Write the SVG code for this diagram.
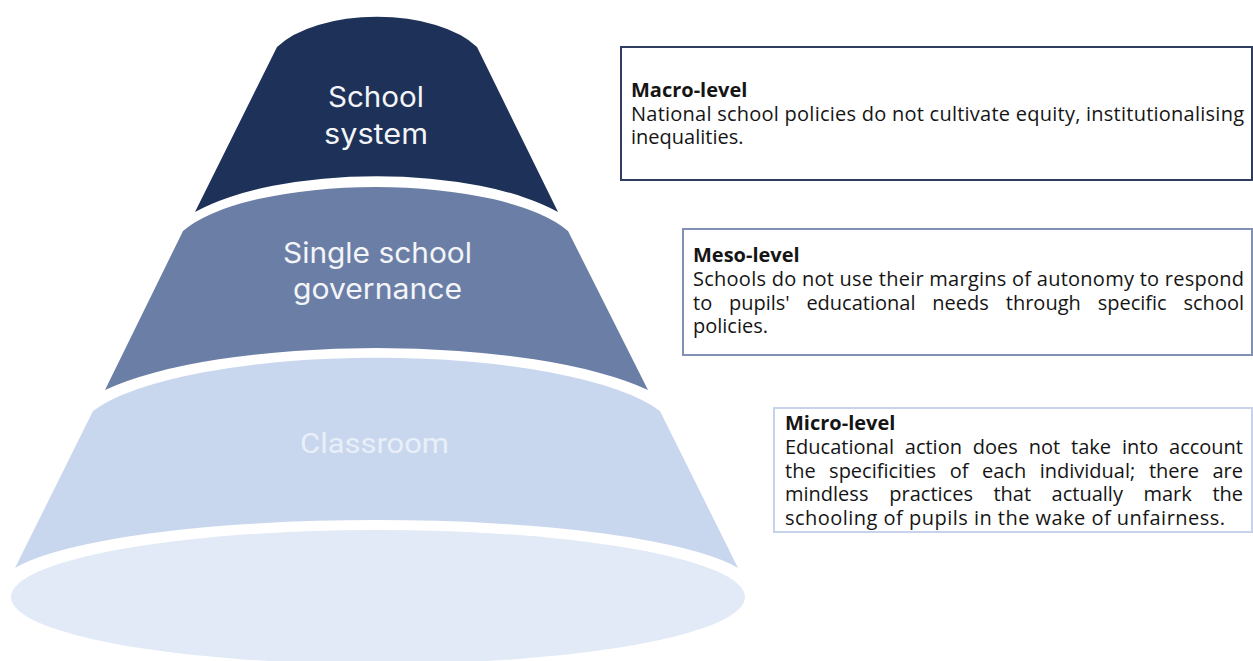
<svg xmlns="http://www.w3.org/2000/svg" width="1253" height="661" viewBox="0 0 1253 661">
  <style>
    .label { font-family: "Inter", "Open Sans", "Liberation Sans", sans-serif; font-size: 28px; text-anchor: middle; }
    .light { fill: #f3f5f9; }
    .pale { fill: #e9eff8; font-family: "Roboto", "Liberation Sans", sans-serif; }
    .note { fill: #ffffff; stroke-width: 2; }
    .body { font-family: "Open Sans", "Noto Sans", "Liberation Sans", sans-serif; font-size: 20px; fill: #151515; }
    .head { font-weight: 700; }
  </style>

  <rect width="1253" height="661" fill="#ffffff"/>

  <!-- cone tiers, top to bottom -->
  <g id="tier-system">
    <path d="M277,47 A112,55 0 0 1 477,47 L558,212 A215,77 0 0 0 195,212 Z" fill="#1e3158"/>
    <text class="label light" x="376" y="107" textLength="96" lengthAdjust="spacingAndGlyphs">School</text>
    <text class="label light" x="376" y="144" textLength="104" lengthAdjust="spacingAndGlyphs">system</text>
  </g>

  <g id="tier-school">
    <path d="M183,231 A205,67 0 0 1 568,231 L648,390 A310,81 0 0 0 105,390 Z" fill="#6b7fa6"/>
    <text class="label light" x="377.5" y="263" textLength="189" lengthAdjust="spacingAndGlyphs">Single school</text>
    <text class="label light" x="377.5" y="299" textLength="169" lengthAdjust="spacingAndGlyphs">governance</text>
  </g>

  <g id="tier-classroom">
    <path d="M93,411 A300,79 0 0 1 660,411 L738,568 A377,67 0 0 0 15,568 Z" fill="#c8d7ee"/>
    <text class="label pale" x="374.5" y="453" textLength="149" lengthAdjust="spacingAndGlyphs">Classroom</text>
  </g>

  <g id="base">
    <ellipse cx="378" cy="597" rx="367" ry="67" fill="#e2eaf7"/>
  </g>

  <!-- level notes -->
  <g id="note-macro">
    <rect class="note" x="621" y="47" width="631" height="133" stroke="#2f3e5f"/>
    <text class="body head" x="631" y="97">Macro-level</text>
    <text class="body" x="631" y="120.5" textLength="613" lengthAdjust="spacing">National school policies do not cultivate equity, institutionalising</text>
    <text class="body" x="631" y="144">inequalities.</text>
  </g>

  <g id="note-meso">
    <rect class="note" x="683" y="229" width="569" height="126" stroke="#8191b3"/>
    <text class="body head" x="693" y="262">Meso-level</text>
    <text class="body" x="693" y="286" textLength="551" lengthAdjust="spacing">Schools do not use their margins of autonomy to respond</text>
    <text class="body" y="310"><tspan x="693">to</tspan><tspan x="729">pupils'</tspan><tspan x="806.4">educational</tspan><tspan x="932.3">needs</tspan><tspan x="1005.8">through</tspan><tspan x="1097.7">specific</tspan><tspan x="1244" text-anchor="end">school</tspan></text>
    <text class="body" x="693" y="333">policies.</text>
  </g>

  <g id="note-micro">
    <rect class="note" x="774" y="408" width="478" height="124" stroke="#c6d3ea"/>
    <text class="body head" x="785" y="430">Micro-level</text>
    <text class="body" y="454"><tspan x="785">Educational</tspan><tspan x="904.8">action</tspan><tspan x="972.8">does</tspan><tspan x="1028.8">not</tspan><tspan x="1071.1">take</tspan><tspan x="1121.9">into</tspan><tspan x="1243" text-anchor="end">account</tspan></text>
    <text class="body" y="478"><tspan x="785">the</tspan><tspan x="829.1">specificities</tspan><tspan x="949.7">of</tspan><tspan x="982">each</tspan><tspan x="1039.7">individual;</tspan><tspan x="1148.9">there</tspan><tspan x="1243" text-anchor="end">are</tspan></text>
    <text class="body" y="501"><tspan x="785">mindless</tspan><tspan x="889.3">practices</tspan><tspan x="993.4">that</tspan><tspan x="1051.6">actually</tspan><tspan x="1143.4">mark</tspan><tspan x="1243" text-anchor="end">the</tspan></text>
    <text class="body" x="785" y="525" textLength="440" lengthAdjust="spacing">schooling of pupils in the wake of unfairness.</text>
  </g>
</svg>
